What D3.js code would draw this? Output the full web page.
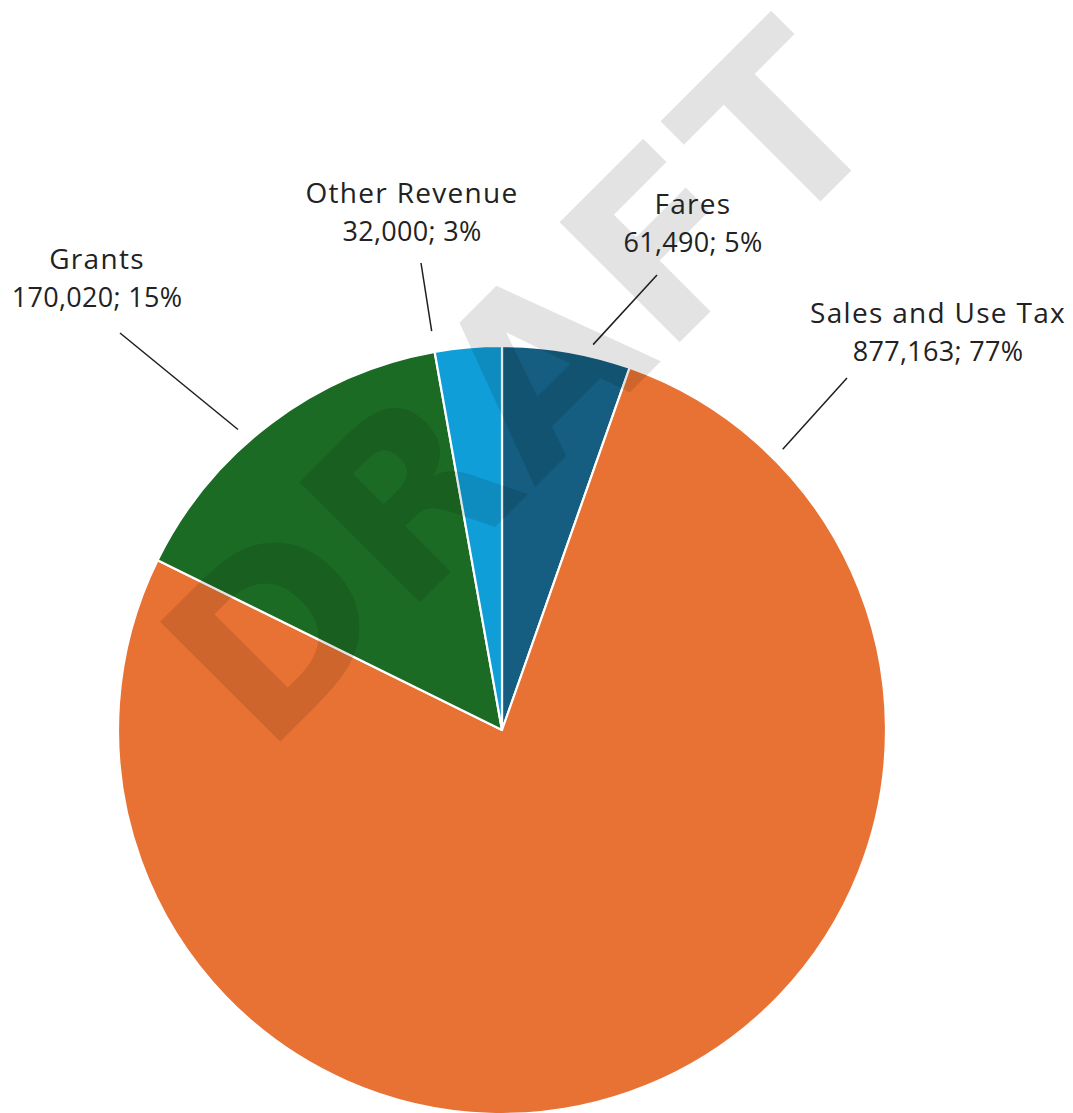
<!DOCTYPE html>
<html>
<head>
<meta charset="utf-8">
<script src="https://cdn.jsdelivr.net/npm/d3@7/dist/d3.min.js"></script>
<style>
  html, body { margin: 0; padding: 0; background: #fff; }
  svg { display: block; }
</style>
</head>
<body>
<svg id="chart" width="1073" height="1113"></svg>
<script>
// ---- data ----
const categories = ["Fares", "Sales and Use Tax", "Grants", "Other Revenue"];
const values = [61490, 877163, 170020, 32000];
const colors = ["#155e81", "#e87233", "#1b6b24", "#109ed8"];
const watermarkText = "DRAFT";

// ---- label layout (annotation placement) ----
const labelPos = [
  { cx: 693, y: 214, lx: 657, ly: 275, ang: 13.3, rr: 396 },
  { cx: 938, y: 323, lx: 847, ly: 378, ang: 45, rr: 397 },
  { cx: 97,  y: 269, lx: 120, ly: 333, ang: -41.3, rr: 400 },
  { cx: 412, y: 203, lx: 421, ly: 263, ang: -10, rr: 405 }
];

const W = 1073, H = 1113;
const cx = 502, cy = 730, R = 384;

const svg = d3.select("#chart");
const total = d3.sum(values);
const data = categories.map((c, i) => ({ name: c, value: values[i], color: colors[i], i }));

const pie = d3.pie().value(d => d.value).sort(null);
const arc = d3.arc().innerRadius(0).outerRadius(R);
const arcs = pie(data);

const g = svg.append("g").attr("transform", `translate(${cx},${cy})`);
g.selectAll("path.slice")
  .data(arcs)
  .join("path")
  .attr("class", "slice")
  .attr("d", arc)
  .attr("fill", d => d.data.color)
  .attr("stroke", "#ffffff")
  .attr("stroke-width", 2.2)
  .attr("stroke-linejoin", "round");

// ---- watermark ----
svg.append("text")
  .attr("transform", "rotate(-45)")
  .attr("x", -348)
  .attr("y", 722.7)
  .attr("textLength", 887)
  .attr("lengthAdjust", "spacing")
  .attr("font-family", "DejaVu Sans")
  .attr("font-weight", "bold")
  .attr("font-size", 233)
  .attr("fill", "#000")
  .attr("fill-opacity", 0.11)
  .text(watermarkText);

// ---- labels ----
const fmt = d3.format(",");
const pct = v => Math.round(v / total * 100) + "%";

const lab = svg.append("g");
data.forEach((d, i) => {
  const p = labelPos[i];
  const inner = d3.pointRadial(p.ang * Math.PI / 180, p.rr);
  lab.append("line")
    .attr("x1", p.lx).attr("y1", p.ly)
    .attr("x2", cx + inner[0]).attr("y2", cy + inner[1])
    .attr("stroke", "#1e1e1e")
    .attr("stroke-width", 1.5);
  const t = lab.append("text")
    .attr("text-anchor", "middle")
    .attr("font-family", "'Open Sans', Lato, sans-serif")
    .attr("fill", "#222");
  t.append("tspan").attr("x", p.cx).attr("y", p.y)
    .attr("font-size", 28).attr("letter-spacing", 1.3)
    .text(d.name);
  t.append("tspan").attr("x", p.cx).attr("y", p.y + 38)
    .attr("font-size", 27).attr("letter-spacing", 0.3)
    .text(fmt(d.value) + "; " + pct(d.value));
});
</script>
</body>
</html>
